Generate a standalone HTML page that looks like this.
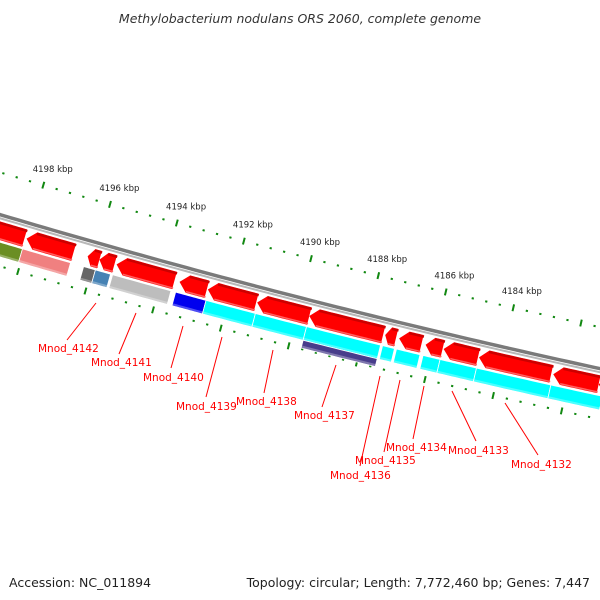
<!DOCTYPE html>
<html><head><meta charset="utf-8">
<style>
html,body{margin:0;padding:0;background:#fff;}
svg{display:block;font-family:"DejaVu Sans","Liberation Sans",sans-serif;}
</style></head>
<body>
<svg id="map" width="600" height="600" viewBox="0 0 600 600">
  <text x="300" y="23" text-anchor="middle" font-size="12.5" font-style="italic" fill="#333">Methylobacterium nodulans ORS 2060, complete genome</text>
  <text x="9" y="587" font-size="12.5" fill="#222">Accession: NC_011894</text>
  <text x="590" y="587" text-anchor="end" font-size="12.5" fill="#222">Topology: circular; Length: 7,772,460 bp; Genes: 7,447</text>
  <g id="ticks"></g>
  <g id="backbone"></g>
  <g id="genes"></g>
  <g id="labels"></g>
</svg>
<script>
// ---- data (kbp) ----
const tickLabels = [4198,4196,4194,4192,4190,4188,4186,4184];
const geneStarts = [4199.16,4198.03,4196.21,4195.86,4195.35,4193.48,4192.64,4191.18,4189.64,4187.40,4186.99,4186.21,4185.68,4184.64,4182.46,4181.13];
const geneEnds   = [4198.09,4196.63,4195.86,4195.41,4193.63,4192.67,4191.21,4189.64,4187.46,4187.08,4186.33,4185.71,4184.67,4182.52,4181.13,4180.60];
const featStarts = [4198.86,4198.06,4196.24,4195.89,4195.38,4193.51,4192.61,4191.15,4189.64,4187.40,4186.99,4186.21,4185.71,4184.64,4182.46,4180.95];
const featEnds   = [4198.06,4196.63,4195.89,4195.44,4193.65,4192.61,4191.15,4189.64,4187.46,4187.05,4186.30,4185.71,4184.64,4182.46,4180.95,4180.50];
const featColors = ["#6b8e23","#f08080","#666666","#4682b4","#bdbdbd","#0000ee","#00ffff","#00ffff","#00ffff","#00ffff","#00ffff","#00ffff","#00ffff","#00ffff","#00ffff","#00ffff"];
const row3Starts = [4189.64];
const row3Ends   = [4187.46];
const labelNames = ["Mnod_4142","Mnod_4141","Mnod_4140","Mnod_4139","Mnod_4138","Mnod_4137","Mnod_4136","Mnod_4135","Mnod_4134","Mnod_4133","Mnod_4132"];

// ---- geometry ----
const NS="http://www.w3.org/2000/svg";
const CX=2351, CY=-7698, R=8256;
const dTheta=34.7/(R-42);
const thetaA=Math.acos((311-CX)/(R-42));
function P(k,r){const t=thetaA+(k-4190)*dTheta;return [CX+(R+r)*Math.cos(t),CY+(R+r)*Math.sin(t)];}
function arcPts(k1,k2,r,n){const a=[];for(let i=0;i<=n;i++){a.push(P(k1+(k2-k1)*i/n,r));}return a;}
function ptsStr(a){return a.map(p=>p[0].toFixed(2)+","+p[1].toFixed(2)).join(" ");}
function mk(tag,attrs,parent){const e=document.createElementNS(NS,tag);for(const k in attrs)e.setAttribute(k,attrs[k]);parent.appendChild(e);return e;}

const gT=document.getElementById('ticks'), gB=document.getElementById('backbone'), gG=document.getElementById('genes'), gL=document.getElementById('labels');
const K0=4200.5, K1=4179.5;

// backbone
let bb=mk('polyline',{points:ptsStr(arcPts(K0,K1,-1.5,80)),fill:'none',stroke:'#7a7a7a','stroke-width':3.5},gB);


let bb2=mk('polyline',{points:ptsStr(arcPts(K0,K1,2,80)),fill:'none',stroke:'#b8b8b8','stroke-width':2},gB);



// tick rings
for(let i=0;i<=Math.round((K0-K1)/0.4);i++){
  const k=4180+i*0.4; if(k>K0)break;
  const major=Math.abs(k/2-Math.round(k/2))<1e-6;
  [-42,48].forEach(r=>{
    const h=major?3.5:1;
    const a=P(k,r-h),b=P(k,r+h);
    const t=mk('line',{x1:a[0],y1:a[1],x2:b[0],y2:b[1],stroke:'#118811','stroke-width':major?2:2.2},gT);
    
    
  });
}
tickLabels.forEach(k=>{
  const p=P(k,-58);
  const t=mk('text',{x:p[0]+5,y:p[1]+2,'text-anchor':'middle','font-size':8.5,fill:'#222'},gT);
  t.textContent=k+' kbp';
  
  
});

// red genes (arrow pointing left / higher kbp)
function gene(k1,k2,r1,r2){
  const len=k1-k2, head=Math.min(0.25,len*0.45), rm=(r1+r2)/2;
  const top=arcPts(k1-head,k2,r1,12), bot=arcPts(k2,k1-head,r2,12);
  return [P(k1,rm)].concat(top,bot);
}
geneStarts.forEach((s,i)=>{
  const e=geneEnds[i];
  const hd=Math.min(0.25,(s-e)*0.45);
  const g=mk('polygon',{points:ptsStr(gene(s,e,5,23)),fill:'#ff0000'},gG);
  
  
  const sh=mk('polyline',{points:ptsStr(arcPts(s-hd,e-0.02,6.5,10)),fill:'none',stroke:'#cc0000','stroke-width':2.5},gG);
  
  
  const hl=mk('polyline',{points:ptsStr(arcPts(s-hd,e-0.02,21.8,8)),fill:'none',stroke:'#ff6060','stroke-width':1.5},gG);
  
  
});
function box(k1,k2,r1,r2,color,name){
  const pts=arcPts(k1,k2,r1,12).concat(arcPts(k2,k1,r2,12));
  const b=mk('polygon',{points:ptsStr(pts),fill:color,stroke:'#fff','stroke-width':0.8},gG);
  
  
  const hl=mk('polyline',{points:ptsStr(arcPts(k1,k2,r2-1.5,8)),fill:'none',stroke:'rgba(255,255,255,0.3)','stroke-width':2},gG);
  
  
}
featStarts.forEach((s,i)=>box(s,featEnds[i],25,39,featColors[i],'feature-box'));
row3Starts.forEach((s,i)=>box(s,row3Ends[i],39,47,'#483d8b','feature-box-row3'));

// labels
const labelPos=[[38,352,67,340,96,303],[91,366,119,354,136,313],[143,381,171,368,183,326],[176,410,206,397,222,337],[236,405,264,393,273,350],[294,419,322,407,336,365],[330,479,360,466,380,376],[355,464,384,452,400,380],[386,451,413,439,424,386],[448,454,476,441,452,391],[511,468,538,455,505,403]];
labelNames.forEach((n,i)=>{
  const q=labelPos[i];
  const l=mk('line',{x1:q[2],y1:q[3],x2:q[4],y2:q[5],stroke:'#ff0000','stroke-width':1},gL);
  
  
  const t=mk('text',{x:q[0],y:q[1],'font-size':10.5,fill:'#ff0000'},gL);
  t.textContent=n;
  
  
});
</script>
</body></html>
